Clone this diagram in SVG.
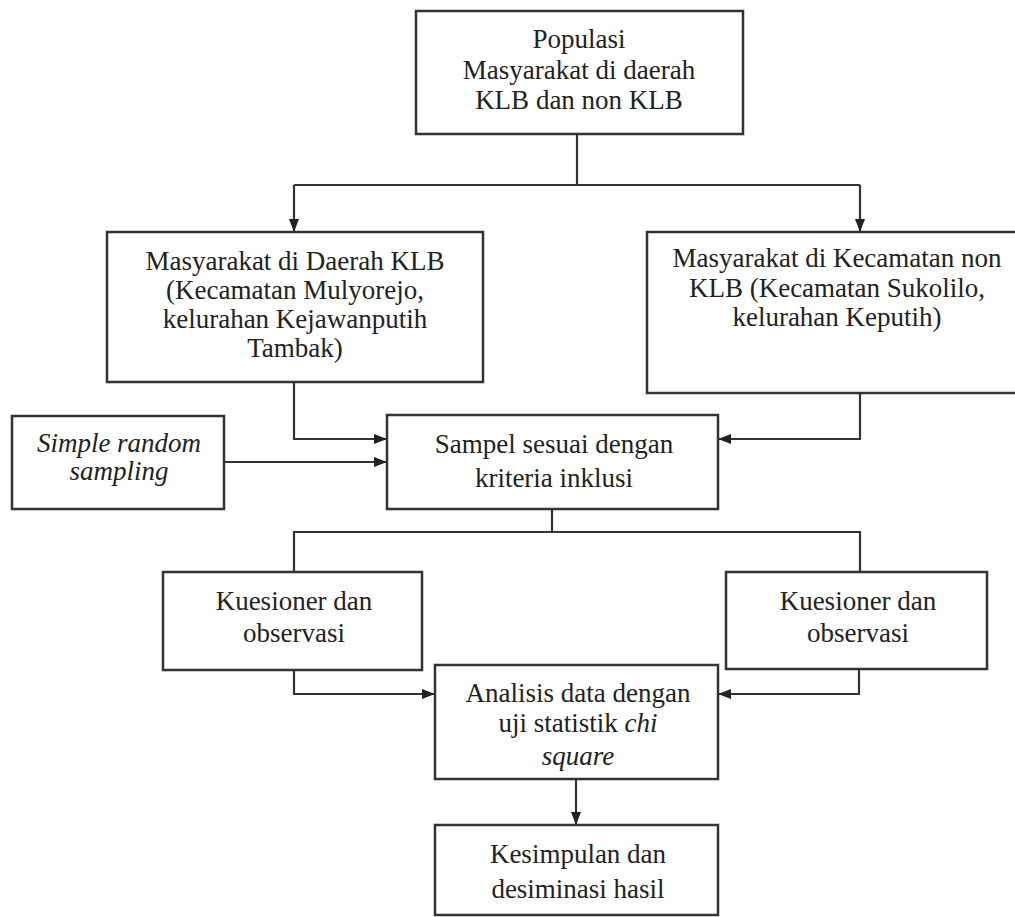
<svg xmlns="http://www.w3.org/2000/svg" width="1015" height="917" viewBox="0 0 1015 917">
<defs>
<marker id="ah" markerUnits="userSpaceOnUse" markerWidth="14" markerHeight="12" refX="13" refY="6" orient="auto">
<path d="M0,1 L13,6 L0,11 Z" fill="#222"/>
</marker>
<style>
.box{fill:#fff;stroke:#333;stroke-width:2.5}
.t{font-family:"Liberation Serif","Times New Roman",serif;font-size:27px;fill:#222;text-anchor:middle}
.i{font-style:italic}
.c{fill:none;stroke:#333;stroke-width:2.2}
</style>
</defs>
<rect width="1015" height="917" fill="#fff"/>
<g id="connectors">
<path class="c" d="M577,134 V185"/>
<path class="c" d="M294,185 H860"/>
<path class="c" d="M294,185 V232" marker-end="url(#ah)"/>
<path class="c" d="M860,185 V232" marker-end="url(#ah)"/>
<path class="c" d="M294,382 V439 H387" marker-end="url(#ah)"/>
<path class="c" d="M224,462 H387" marker-end="url(#ah)"/>
<path class="c" d="M860,393 V439 H718" marker-end="url(#ah)"/>
<path class="c" d="M552,509 V532"/>
<path class="c" d="M294,572 V532 H860 V572"/>
<path class="c" d="M294,670 V694 H435" marker-end="url(#ah)"/>
<path class="c" d="M859,669 V694 H718" marker-end="url(#ah)"/>
<path class="c" d="M576,779 V825" marker-end="url(#ah)"/>
</g>
<g id="populasi">
<rect class="box" x="416" y="11" width="327" height="123"/>
<text class="t" x="579" y="48">Populasi</text>
<text class="t" x="579" y="79">Masyarakat di daerah</text>
<text class="t" x="579" y="109">KLB dan non KLB</text>
</g>
<g id="klb">
<rect class="box" x="107" y="232" width="376" height="150"/>
<text class="t" x="295" y="270">Masyarakat di Daerah KLB</text>
<text class="t" x="295" y="299">(Kecamatan Mulyorejo,</text>
<text class="t" x="295" y="328">kelurahan Kejawanputih</text>
<text class="t" x="295" y="357">Tambak)</text>
</g>
<g id="nonklb">
<rect class="box" x="647" y="232" width="380" height="161"/>
<text class="t" x="837" y="267">Masyarakat di Kecamatan non</text>
<text class="t" x="837" y="297">KLB (Kecamatan Sukolilo,</text>
<text class="t" x="837" y="326">kelurahan Keputih)</text>
</g>
<g id="srs">
<rect class="box" x="12" y="416" width="212" height="93"/>
<text class="t i" x="119" y="452">Simple random</text>
<text class="t i" x="119" y="480">sampling</text>
</g>
<g id="sampel">
<rect class="box" x="387" y="415" width="331" height="94"/>
<text class="t" x="554" y="453">Sampel sesuai dengan</text>
<text class="t" x="554" y="487">kriteria inklusi</text>
</g>
<g id="kuesioner1">
<rect class="box" x="163" y="572" width="259" height="98"/>
<text class="t" x="294" y="610">Kuesioner dan</text>
<text class="t" x="294" y="642">observasi</text>
</g>
<g id="kuesioner2">
<rect class="box" x="726" y="572" width="261" height="97"/>
<text class="t" x="858" y="610">Kuesioner dan</text>
<text class="t" x="858" y="642">observasi</text>
</g>
<g id="analisis">
<rect class="box" x="435" y="665" width="283" height="114"/>
<text class="t" x="578" y="702">Analisis data dengan</text>
<text class="t" x="578" y="732">uji statistik <tspan class="i">chi</tspan></text>
<text class="t i" x="578" y="765">square</text>
</g>
<g id="kesimpulan">
<rect class="box" x="435" y="825" width="283" height="90"/>
<text class="t" x="578" y="863">Kesimpulan dan</text>
<text class="t" x="578" y="898">desiminasi hasil</text>
</g>
</svg>
